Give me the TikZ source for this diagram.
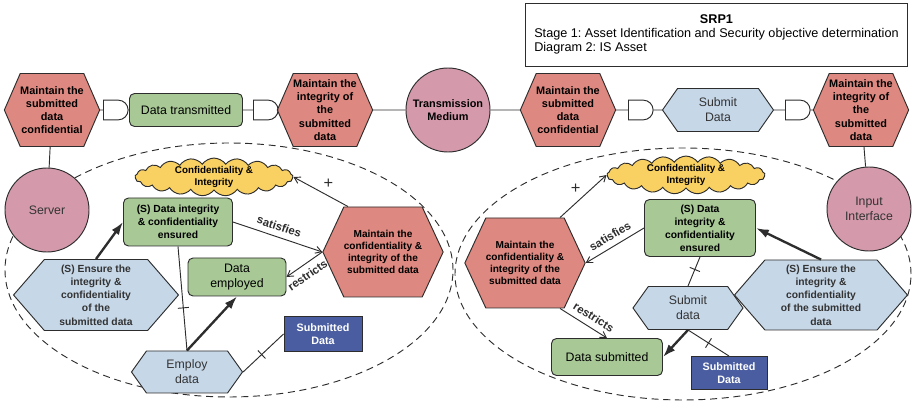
\documentclass[tikz,border=0pt]{standalone}
\usepackage{fontspec}
\setmainfont{Liberation Sans}
\usepackage{tikz}
\usetikzlibrary{shapes.symbols, shapes.gates.logic.US, arrows.meta}
\frenchspacing

\definecolor{hexred}{RGB}{221,136,128}
\definecolor{boxgreen}{RGB}{168,200,150}
\definecolor{hexblue}{RGB}{198,215,232}
\definecolor{circpink}{RGB}{212,154,172}
\definecolor{cloudyellow}{RGB}{249,208,98}
\definecolor{assetblue}{RGB}{74,93,160}
\definecolor{edgegrey}{RGB}{45,45,45}

\newlength\pxl
\setlength\pxl{0.03cm}

\begin{document}
\begin{tikzpicture}[
    x=0.03cm, y=-0.03cm,
    line width=0.8pt,
    goalhex/.style={signal, signal to=east and west, draw=edgegrey, fill=hexred, align=center, inner sep=0pt, font=\fontsize{9.3}{11.3}\selectfont\bfseries},
    innerhex/.style={goalhex, font=\fontsize{8.6}{10.2}\selectfont\bfseries, signal pointer angle=130},
    taskhex/.style={signal, signal to=east and west, draw=edgegrey, fill=hexblue, align=center, inner sep=0pt, font=\fontsize{10.5}{12.8}\selectfont, text=black!80, signal pointer angle=109},
    softhex/.style={taskhex, font=\fontsize{8.8}{11.3}\selectfont\bfseries, signal pointer angle=98},
    resbox/.style={rectangle, rounded corners=5\pxl, draw=edgegrey, fill=boxgreen, align=center, inner sep=0pt, font=\fontsize{10.5}{12.8}\selectfont},
    softbox/.style={resbox, font=\fontsize{8.8}{11}\selectfont\bfseries},
    actor/.style={circle, draw=edgegrey, fill=circpink, inner sep=0pt, minimum size=84\pxl, align=center, font=\fontsize{10.5}{12.8}\selectfont, text=black!80},
    softgoal/.style={cloud, cloud puffs=21, cloud puff arc=110, cloud ignores aspect, draw=edgegrey, fill=cloudyellow, inner sep=0pt, minimum width=158\pxl, minimum height=33\pxl, align=center, font=\fontsize{8.4}{10}\selectfont\bfseries},
    asset/.style={rectangle, draw=edgegrey, fill=assetblue, text=white, inner sep=0pt, align=center, font=\fontsize{9.2}{11}\selectfont\bfseries},
    andgate/.style={and gate US, draw=edgegrey, fill=white, inner sep=0pt, minimum width=20\pxl, minimum height=16\pxl},
    link/.style={-{Straight Barb[length=5pt,width=6pt]}, edgegrey},
    bold link/.style={-{Latex[length=11pt,width=7.5pt]}, edgegrey, line width=2pt},
    crossmark/.style={sloped, draw=edgegrey, inner sep=0pt, minimum width=0pt, minimum height=11\pxl},
    lbl/.style={font=\fontsize{9.8}{11}\selectfont\bfseries, sloped, inner sep=1pt},
    plus/.style={font=\fontsize{14}{14}\selectfont, inner sep=1pt}
    ]

    \useasboundingbox (0,0) rectangle (912,405);

    % boundaries
    \draw[edgegrey, dashed, dash pattern=on 6pt off 4pt] (229,270) ellipse [x radius=224\pxl, y radius=127\pxl];
    \draw[edgegrey, dashed, dash pattern=on 6pt off 4pt] (683,274) ellipse [x radius=228\pxl, y radius=126\pxl];

    % title
    \node[draw=edgegrey, anchor=north west, minimum width=382\pxl, minimum height=63\pxl, inner sep=0pt, font=\fontsize{10.8}{12}\selectfont] (title) at (525,3)
        {\begin{tabular}{@{}l@{}}\multicolumn{1}{c}{\textbf{SRP1}}\\Stage 1: Asset Identification and Security objective determination\\Diagram 2: IS Asset\end{tabular}};

    % top row
    \node[goalhex, signal pointer angle=133, minimum width=91\pxl, minimum height=73\pxl] (hex1) at (52,110) {Maintain the\\submitted\\data\\confidential};
    \node[andgate] (gate1) at (115,110) {};
    \node[resbox, minimum width=113\pxl, minimum height=33\pxl] (transmitted) at (186,110) {Data transmitted};
    \node[andgate] (gate2) at (265,110) {};
    \node[goalhex, signal pointer angle=133, minimum width=90\pxl, minimum height=73\pxl] (hex2) at (325,110) {Maintain the\\integrity of\\the\\submitted\\data};
    \node[actor, font=\fontsize{9.3}{11.3}\selectfont\bfseries, text=black] (medium) at (448,110) {Transmission\\Medium};
    \node[goalhex, signal pointer angle=133, minimum width=86\pxl, minimum height=73\pxl] (hex3) at (568,110) {Maintain the\\submitted\\data\\confidential};
    \node[andgate] (gate3) at (640,110) {};
    \node[taskhex, signal pointer angle=110, minimum width=111\pxl, minimum height=43\pxl] (submitTop) at (718,110) {Submit\\Data};
    \node[andgate] (gate4) at (797,110) {};
    \node[goalhex, signal pointer angle=133, minimum width=90\pxl, minimum height=73\pxl] (hex4) at (861,110) {Maintain the\\integrity of\\the\\submitted\\data};

    \draw[edgegrey] (hex1) -- (gate1) -- (transmitted) -- (gate2) -- (hex2) -- (medium) -- (hex3) -- (gate3) -- (submitTop) -- (gate4) -- (hex4);

    % actors
    \node[actor] (server) at (47,210) {Server};
    \node[actor] (input) at (869,209) {Input\\Interface};
    \draw[edgegrey] (hex1) -- (server);
    \draw[edgegrey] (hex4) -- (input);

    % server boundary
    \node[softgoal] (cloudL) at (214,177) {Confidentiality \&\\Integrity};
    \node[softbox, minimum width=109\pxl, minimum height=48\pxl] (sboxL) at (178,222) {(S) Data integrity\\\& confidentiality\\ensured};
    \node[innerhex, minimum width=112\pxl, minimum height=90\pxl] (hexL) at (383,252) {Maintain the\\confidentiality \&\\integrity of the\\submitted data};
    \node[resbox, minimum width=98\pxl, minimum height=38\pxl] (employed) at (237,277) {Data\\employed};
    \node[softhex, minimum width=165\pxl, minimum height=71\pxl] (ensureL) at (96,295) {(S) Ensure the\\integrity \&\\confidentiality\\of the\\submitted data};
    \node[asset, minimum width=78\pxl, minimum height=35\pxl] (assetL) at (323,334) {Submitted\\Data};
    \node[taskhex, minimum width=111\pxl, minimum height=42\pxl] (employ) at (187,372) {Employ\\data};

    \draw[link] ([xshift=-35\pxl]hexL.north) -- node[plus, midway, above right=1pt] {+} (cloudL.east);
    \draw[link] (sboxL.east) -- node[lbl, pos=0.48, above=4pt] {satisfies} (hexL.west);
    \draw[link] (hexL.west) -- node[lbl, pos=0.58, below=4pt] {restricts} (employed.east);
    \draw[bold link] (ensureL.north) -- (sboxL.west);
    \draw[edgegrey] (sboxL.south) -- node[crossmark, pos=0.59] {} (employ.north);
    \draw[bold link] (employ.north) -- (employed.south);
    \draw[edgegrey] (employ.east) -- node[crossmark, pos=0.46] {} (assetL.west);

    % input interface boundary
    \node[softgoal] (cloudR) at (686,175) {Confidentiality \&\\Integrity};
    \node[softbox, minimum width=111\pxl, minimum height=57\pxl] (sboxR) at (700,228) {(S) Data\\integrity \&\\confidentiality\\ensured};
    \node[innerhex, minimum width=114\pxl, minimum height=90\pxl] (hexR) at (525,263) {Maintain the\\confidentiality \&\\integrity of the\\submitted data};
    \node[taskhex, minimum width=110\pxl, minimum height=43\pxl] (submit) at (688,308) {Submit\\data};
    \node[softhex, minimum width=173\pxl, minimum height=70\pxl] (ensureR) at (821,295) {(S) Ensure the\\integrity \&\\confidentiality\\of the submitted\\data};
    \node[resbox, minimum width=111\pxl, minimum height=37\pxl] (submitted) at (607,357) {Data submitted};
    \node[asset, minimum width=76\pxl, minimum height=33\pxl] (assetR) at (729,373) {Submitted\\Data};

    \draw[link] ([xshift=35\pxl]hexR.north) -- node[plus, midway, above left=1pt] {+} (cloudR.west);
    \draw[link] (sboxR.west) -- node[lbl, pos=0.49, above=4pt] {satisfies} (hexR.east);
    \draw[link] ([xshift=35\pxl]hexR.south) -- node[lbl, pos=0.6, above=4pt] {restricts} (submitted.north);
    \draw[bold link] (ensureR.north) -- (sboxR.east);
    \draw[edgegrey] (sboxR.south) -- node[crossmark, pos=0.43] {} (submit.north);
    \draw[bold link] (submit.south) -- (submitted.east);
    \draw[edgegrey] (submit.south) -- node[crossmark, pos=0.5] {} (assetR.north);

\end{tikzpicture}
\end{document}
